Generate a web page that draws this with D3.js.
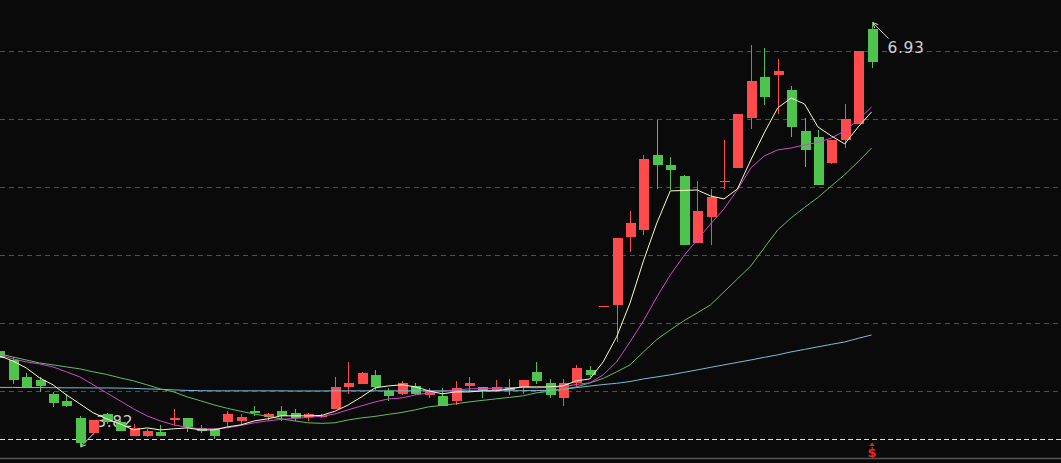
<!DOCTYPE html>
<html><head><meta charset="utf-8">
<script src="https://cdn.jsdelivr.net/npm/d3@7"></script>
<style>html,body{margin:0;padding:0;background:#0a0a0a;overflow:hidden}</style>
</head><body><svg id="c" width="1061" height="463"></svg>
<script>
// ---- data (prices) ----
const openP = [4.52,4.46,4.33,4.31,4.21,4.16,4.03,3.92,4.06,4.00,
  3.90,3.90,3.93,4.02,4.03,3.96,3.95,4.00,4.01,4.08,
  4.04,4.08,4.07,4.04,4.04,4.10,4.26,4.28,4.35,4.23,
  4.21,4.27,4.20,4.19,4.16,4.27,4.26,4.24,4.26,4.26,
  4.37,4.29,4.18,4.29,4.38,4.85,4.86,5.36,5.41,5.96,
  5.88,5.80,5.31,5.50,5.76,5.86,6.23,6.53,6.54,6.43,
  6.13,6.09,5.90,6.07,6.18,6.88];
const highP = [4.53,4.48,4.36,4.33,4.22,4.21,4.05,4.02,4.07,4.02,
  3.99,3.95,3.98,4.10,4.03,3.98,3.96,4.08,4.06,4.12,
  4.07,4.12,4.10,4.07,4.06,4.33,4.44,4.37,4.38,4.25,
  4.30,4.29,4.25,4.25,4.30,4.33,4.26,4.31,4.32,4.31,
  4.44,4.32,4.32,4.42,4.41,4.85,5.35,5.55,5.96,6.21,
  5.94,5.81,5.77,5.71,6.07,6.26,6.76,6.74,6.66,6.46,
  6.23,6.14,6.07,6.33,6.72,6.93];
const lowP = [4.46,4.28,4.26,4.22,4.11,4.11,3.82,3.91,3.99,3.94,
  3.90,3.89,3.90,3.98,3.93,3.92,3.88,3.96,3.98,4.05,
  4.01,4.01,4.01,4.01,4.03,4.10,4.21,4.28,4.24,4.16,
  4.20,4.20,4.18,4.12,4.13,4.23,4.18,4.23,4.20,4.21,
  4.28,4.18,4.12,4.26,4.33,4.85,4.59,5.25,5.37,5.71,
  5.70,5.30,5.31,5.30,5.71,5.86,6.15,6.32,6.26,6.09,
  5.87,5.74,5.89,6.01,6.18,6.59];
const closeP = [4.47,4.31,4.26,4.27,4.14,4.12,3.85,4.02,4.00,3.94,
  3.96,3.94,3.90,4.03,3.97,3.94,3.90,4.06,4.04,4.07,
  4.06,4.05,4.03,4.06,4.05,4.26,4.29,4.36,4.26,4.19,
  4.29,4.21,4.23,4.12,4.25,4.29,4.24,4.26,4.24,4.31,
  4.30,4.20,4.29,4.40,4.35,4.85,5.35,5.46,5.93,5.88,
  5.85,5.30,5.55,5.65,5.77,6.26,6.50,6.38,6.57,6.16,
  5.99,5.74,6.07,6.22,6.72,6.64];
const ma5 = [4.487,4.450,4.399,4.326,4.275,4.201,4.136,4.070,4.026,3.989,
  3.945,3.960,3.945,3.953,3.960,3.945,3.945,3.967,3.982,4.011,
  4.026,4.048,4.048,4.048,4.051,4.081,4.128,4.187,4.253,4.267,
  4.275,4.260,4.231,4.209,4.223,4.223,4.231,4.231,4.245,4.260,
  4.260,4.260,4.267,4.304,4.318,4.443,4.626,4.874,5.182,5.460,
  5.694,5.697,5.701,5.657,5.635,5.708,5.920,6.118,6.301,6.374,
  6.330,6.162,6.096,6.038,6.162,6.272];
const ma10 = [4.494,4.465,4.443,4.428,4.406,4.370,4.333,4.275,4.216,4.158,
  4.099,4.048,4.011,3.982,3.964,3.953,3.953,3.960,3.978,3.997,
  4.011,4.022,4.029,4.037,4.044,4.062,4.092,4.121,4.150,4.172,
  4.179,4.201,4.216,4.227,4.238,4.245,4.249,4.249,4.253,4.256,
  4.253,4.256,4.260,4.278,4.289,4.348,4.443,4.589,4.743,4.918,
  5.079,5.218,5.335,5.452,5.562,5.701,5.862,5.950,5.994,6.008,
  6.030,6.049,6.081,6.133,6.213,6.308];
const ma20 = [4.501,4.479,4.457,4.435,4.421,4.406,4.392,4.370,4.351,4.326,
  4.304,4.275,4.245,4.223,4.187,4.158,4.128,4.103,4.081,4.062,
  4.044,4.026,4.011,3.997,3.993,3.997,4.018,4.033,4.044,4.059,
  4.073,4.092,4.114,4.125,4.136,4.150,4.161,4.172,4.183,4.194,
  4.216,4.227,4.242,4.260,4.289,4.322,4.370,4.421,4.516,4.607,
  4.677,4.743,4.801,4.860,4.955,5.050,5.145,5.277,5.408,5.496,
  5.573,5.646,5.730,5.813,5.908,6.008];
const ma60 = [4.256,4.256,4.255,4.255,4.254,4.253,4.253,4.252,4.252,4.251,
  4.249,4.245,4.242,4.238,4.234,4.232,4.231,4.231,4.231,4.231,
  4.231,4.231,4.230,4.230,4.230,4.231,4.231,4.231,4.231,4.231,
  4.231,4.231,4.231,4.231,4.231,4.231,4.231,4.231,4.232,4.232,
  4.233,4.235,4.241,4.254,4.266,4.277,4.286,4.299,4.318,4.333,
  4.348,4.366,4.384,4.403,4.421,4.439,4.457,4.476,4.494,4.516,
  4.534,4.553,4.571,4.589,4.615,4.640];
const gridLevels = [6.718, 6.220, 5.723, 5.226, 4.728, 4.231];
const baseLevel = 3.877;
const maSeries = [
  {name:"MA60", values: ma60, color:"#7cbcd8"},
  {name:"MA20", values: ma20, color:"#66bb66"},
  {name:"MA10", values: ma10, color:"#d048d0"},
  {name:"MA5",  values: ma5,  color:"#fbfbc8"}
];

// ---- drawing ----
const W = 1061, H = 463;
const UP = "#ff4b4b", DOWN = "#4ec44e";
const svg = d3.select("#c");
svg.append("rect").attr("width", W).attr("height", H).attr("fill", "#0a0a0a");

const idx = d3.range(openP.length);
const x = d3.scalePoint().domain(idx).range([-0.7, 871.6]);
const y = d3.scaleLinear().domain([d3.min(lowP), d3.max(highP)]).range([447, 22]);

// grid
svg.append("g").selectAll("line").data(gridLevels).join("line")
  .attr("x1", 0).attr("x2", W)
  .attr("y1", d => Math.round(y(d)) + 0.5).attr("y2", d => Math.round(y(d)) + 0.5)
  .attr("stroke", "#4e4e4e").attr("stroke-width", 1).attr("stroke-dasharray", "5,4");
svg.append("line").attr("x1", 0).attr("x2", W)
  .attr("y1", Math.round(y(baseLevel)) + 0.5).attr("y2", Math.round(y(baseLevel)) + 0.5)
  .attr("stroke", "#dcdcdc").attr("stroke-width", 1).attr("stroke-dasharray", "5,3");
svg.append("line").attr("x1", 0).attr("x2", W).attr("y1", 458.5).attr("y2", 458.5)
  .attr("stroke", "#555").attr("stroke-width", 1.5);

// max / min labels (drawn beneath candles)
const maxI = highP.indexOf(d3.max(highP));
const minI = lowP.indexOf(d3.min(lowP));
const lab = svg.append("g").attr("stroke", "#d8d8d8").attr("stroke-width", 1).attr("fill", "none");
function arrow(tx, ty, dx, dy) {
  lab.append("line").attr("x1", tx).attr("y1", ty).attr("x2", tx + dx).attr("y2", ty + dy);
  const a = Math.atan2(dy, dx);
  [0.42, -0.42].forEach(o => {
    lab.append("line").attr("x1", tx).attr("y1", ty)
      .attr("x2", tx + 6 * Math.cos(a + o)).attr("y2", ty + 6 * Math.sin(a + o));
  });
}
const labelFont = "DejaVu Sans, sans-serif";
const mxX = x(maxI) + 1, mxY = y(highP[maxI]) + 0.5;
arrow(mxX, mxY, 16, 16);
svg.append("text").attr("x", mxX + 15).attr("y", mxY + 30)
  .attr("fill", "#d0d0d0").attr("font-family", labelFont).attr("font-size", 15.5)
  .attr("letter-spacing", 0.6).text(highP[maxI].toFixed(2));
const mnX = x(minI) + 0.5, mnY = y(lowP[minI]);
arrow(mnX, mnY, 16, -16);
svg.append("text").attr("x", mnX + 16).attr("y", mnY - 20)
  .attr("fill", "#d0d0d0").attr("font-family", labelFont).attr("font-size", 15.5)
  .attr("letter-spacing", 0.6).text(lowP[minI].toFixed(2));

// candles
const candles = idx.map(i => ({i, o: openP[i], h: highP[i], l: lowP[i], c: closeP[i]}));
const cg = svg.append("g").attr("shape-rendering", "crispEdges");
const cand = cg.selectAll("g").data(candles).join("g");
cand.append("line")
  .attr("x1", d => Math.round(x(d.i)) + 0.5).attr("x2", d => Math.round(x(d.i)) + 0.5)
  .attr("y1", d => y(d.h)).attr("y2", d => y(d.l))
  .attr("stroke", d => d.c >= d.o ? UP : DOWN);
cand.append("rect")
  .attr("x", d => Math.round(x(d.i)) - 4).attr("width", 10)
  .attr("y", d => y(Math.max(d.o, d.c)))
  .attr("height", d => Math.max(1, Math.abs(y(d.o) - y(d.c))))
  .attr("fill", d => d.c >= d.o ? UP : DOWN);

// moving averages
const line = d3.line().x((d, i) => x(i)).y(d => y(d));
svg.append("g").selectAll("path").data(maSeries).join("path")
  .attr("d", d => line(d.values)).attr("fill", "none")
  .attr("stroke", d => d.color).attr("stroke-width", 1);

// marker under last bar
const lastX = x(idx[idx.length - 1]) + 0.5;
svg.append("path").attr("d", `M${lastX - 2.5},446 L${lastX},442.5 L${lastX + 2.5},446 Z`).attr("fill", "#e02828");
svg.append("text").attr("x", lastX).attr("y", 457).attr("text-anchor", "middle")
  .attr("fill", "#e02828").attr("font-family", "DejaVu Sans, sans-serif")
  .attr("font-weight", "bold").attr("font-size", 13).text("$");
</script></body></html>
